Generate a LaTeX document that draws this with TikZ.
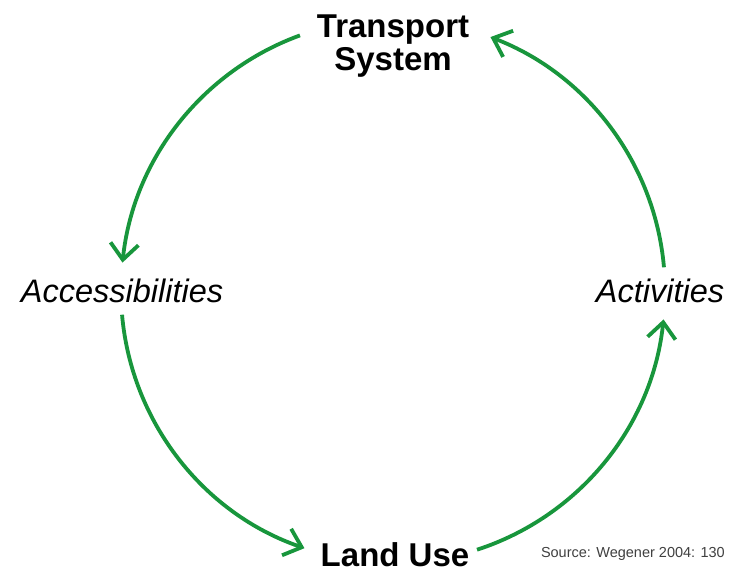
\documentclass[tikz,border=0pt]{standalone}
\usepackage{fontspec}
\setmainfont{Liberation Sans}
\usetikzlibrary{arrows.meta,calc}
\definecolor{cyclegreen}{RGB}{24,150,60}
\begin{document}
\begin{tikzpicture}[x=1pt,y=-1pt,
  cyc/.style={draw=cyclegreen,line width=3.8pt,
    -{Straight Barb[length=16pt,width=28pt,line width=3.8pt]}},
  bigbold/.style={font=\fontsize{33}{33}\selectfont\bfseries,inner sep=0pt,align=center},
  bigital/.style={font=\fontsize{32.5}{32}\selectfont\itshape,inner sep=0pt},
  srcnote/.style={font=\fontsize{14.5}{16}\selectfont,inner sep=0pt,text=black!75}]
\useasboundingbox[fill=white] (0,0) rectangle (735,574);
\coordinate (c) at (393,291);
\node[bigbold] (ts) at (393,46) {Transport\\System};
\node[bigbold,anchor=base] (lu) at (395,566) {Land Use};
\node[bigital,anchor=base] (acc) at (122,302) {Accessibilities};
\node[bigital,anchor=base] (act) at (660,302) {Activities};
\node[srcnote,anchor=base east] (src) at (725,557) {Source: Wegener 2004: 130};
\coordinate (s1) at ($(c)+(-110:272)$);
\coordinate (s2) at ($(c)+(-185:272)$);
\coordinate (s3) at ($(c)+(-288:272)$);
\coordinate (s4) at ($(c)+(-5:272)$);
\draw[cyc] (s1) arc[start angle=-110,end angle=-174,radius=272];
\draw[cyc] (s2) arc[start angle=-185,end angle=-251,radius=272];
\draw[cyc] (s3) arc[start angle=-288,end angle=-354,radius=272];
\draw[cyc] (s4) arc[start angle=-5,end angle=-69,radius=272];
\end{tikzpicture}
\end{document}
